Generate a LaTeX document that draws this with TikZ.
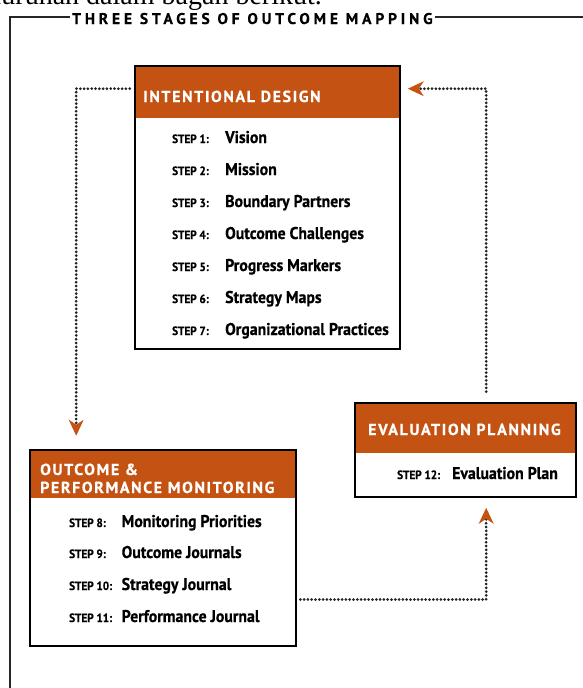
\documentclass[tikz,border=0pt]{standalone}
\usepackage{fontspec}
\setmainfont{PT Sans}
\newfontfamily\bodyfont{PT Sans}[FakeStretch=0.93, FakeBold=0.6]
\newfontfamily\capsfont{PT Sans}[LetterSpace=10, FakeBold=0.5]
\newfontfamily\titlefont{PT Sans}[LetterSpace=25, FakeBold=0.6]
\newfontfamily\serifcut{Liberation Serif}
\usetikzlibrary{arrows.meta}
\definecolor{stagebrown}{RGB}{196,82,18}
\definecolor{dotgray}{RGB}{35,35,35}

\begin{document}
\begin{tikzpicture}[x=1pt,y=-1pt,
  stagebox/.style={draw=black, line width=2.6pt, inner sep=0pt,
    path picture={\fill[stagebrown] (path picture bounding box.north west)
      rectangle ([yshift=-#1]path picture bounding box.north east);}},
  hdrtext/.style={text=white, anchor=base west, inner sep=0pt,
    font=\capsfont\bfseries\fontsize{16}{18}\selectfont},
  steplbl/.style={anchor=base west, inner sep=0pt,
    font=\bodyfont\bfseries\fontsize{12}{13}\selectfont},
  steptxt/.style={anchor=base west, inner sep=0pt,
    font=\bodyfont\bfseries\fontsize{17}{19}\selectfont},
  conn/.style={draw=dotgray, line width=3pt, line cap=round,
    dash pattern=on 0pt off 3.8pt,
    -{Stealth[color=stagebrown, length=16pt, width=15pt, inset=5pt, line width=0pt]}},
  frame/.style={draw=black!85, line width=1.8pt}]

\useasboundingbox (0,0) rectangle (583,688);

% caption line running off the top edge
\node[anchor=base east, inner sep=0pt, font=\serifcut\fontsize{28}{30}\selectfont]
  (cutline) at (322,5) {keseluruhan dalam bagan berikut.};

% outer frame with its title
\node[anchor=base west, inner xsep=2pt, inner ysep=0pt,
  font=\titlefont\bfseries\fontsize{15.5}{17}\selectfont] (title) at (70,24)
  {THREE STAGES OF OUTCOME MAPPING};
\coordinate (fcorner) at (10,17);
\coordinate (fbottom) at (10,688);
\coordinate (fright) at (583,17);
\draw[frame] (fbottom) -- (fcorner) -- (title.west |- fcorner);
\draw[frame] (title.east |- fright) -- (fright);

% stage 1
\node[stagebox=52pt, minimum width=265pt, minimum height=283pt] (id) at (267.5,207.5) {};
\node[hdrtext] (idh) at (143,102) {INTENTIONAL DESIGN};
\foreach \n/\t in {1/Vision, 2/Mission, 3/Boundary Partners, 4/Outcome Challenges,
                   5/Progress Markers, 6/Strategy Maps, 7/Organizational Practices} {
  \node[steplbl] (idl\n) at (172,{143+32*(\n-1)}) {STEP \n:};
  \node[steptxt] (idt\n) at (225,{143+32*(\n-1)}) {\t};
}

% stage 2
\node[stagebox=48pt, minimum width=266pt, minimum height=196pt] (opm) at (163,548) {};
\node[hdrtext] (opmh1) at (40,475) {OUTCOME \&};
\node[hdrtext] (opmh2) at (40,493) {PERFORMANCE MONITORING};
\foreach \n/\t/\y in {8/Monitoring Priorities/527, 9/Outcome Journals/558,
                      10/Strategy Journal/590, 11/Performance Journal/622} {
  \node[steplbl] (opml\n) at (69,\y) {STEP \n:};
  \node[steptxt] (opmt\n) at (121.5,\y) {\t};
}

% stage 3
\node[stagebox=50pt, minimum width=221pt, minimum height=94pt] (ep) at (465.5,450) {};
\node[hdrtext] (eph) at (368,435) {EVALUATION PLANNING};
\node[steplbl] (epl12) at (397,479) {STEP 12:};
\node[steptxt] (ept12) at (452,479) {Evaluation Plan};

% cycle between the stages
\draw[conn, shorten <=4pt, shorten >=13pt]
  ([yshift=-24pt]id.north west) -| ([xshift=47.5pt]opm.north west);
\draw[conn, shorten <=3pt, shorten >=9.5pt]
  ([yshift=-51.5pt]opm.east) -| ([xshift=132.5pt]ep.south west);
\draw[conn, shorten <=10pt, shorten >=6.5pt]
  ([xshift=132.5pt]ep.north west) |- ([yshift=-24pt]id.north east);
\end{tikzpicture}
\end{document}
